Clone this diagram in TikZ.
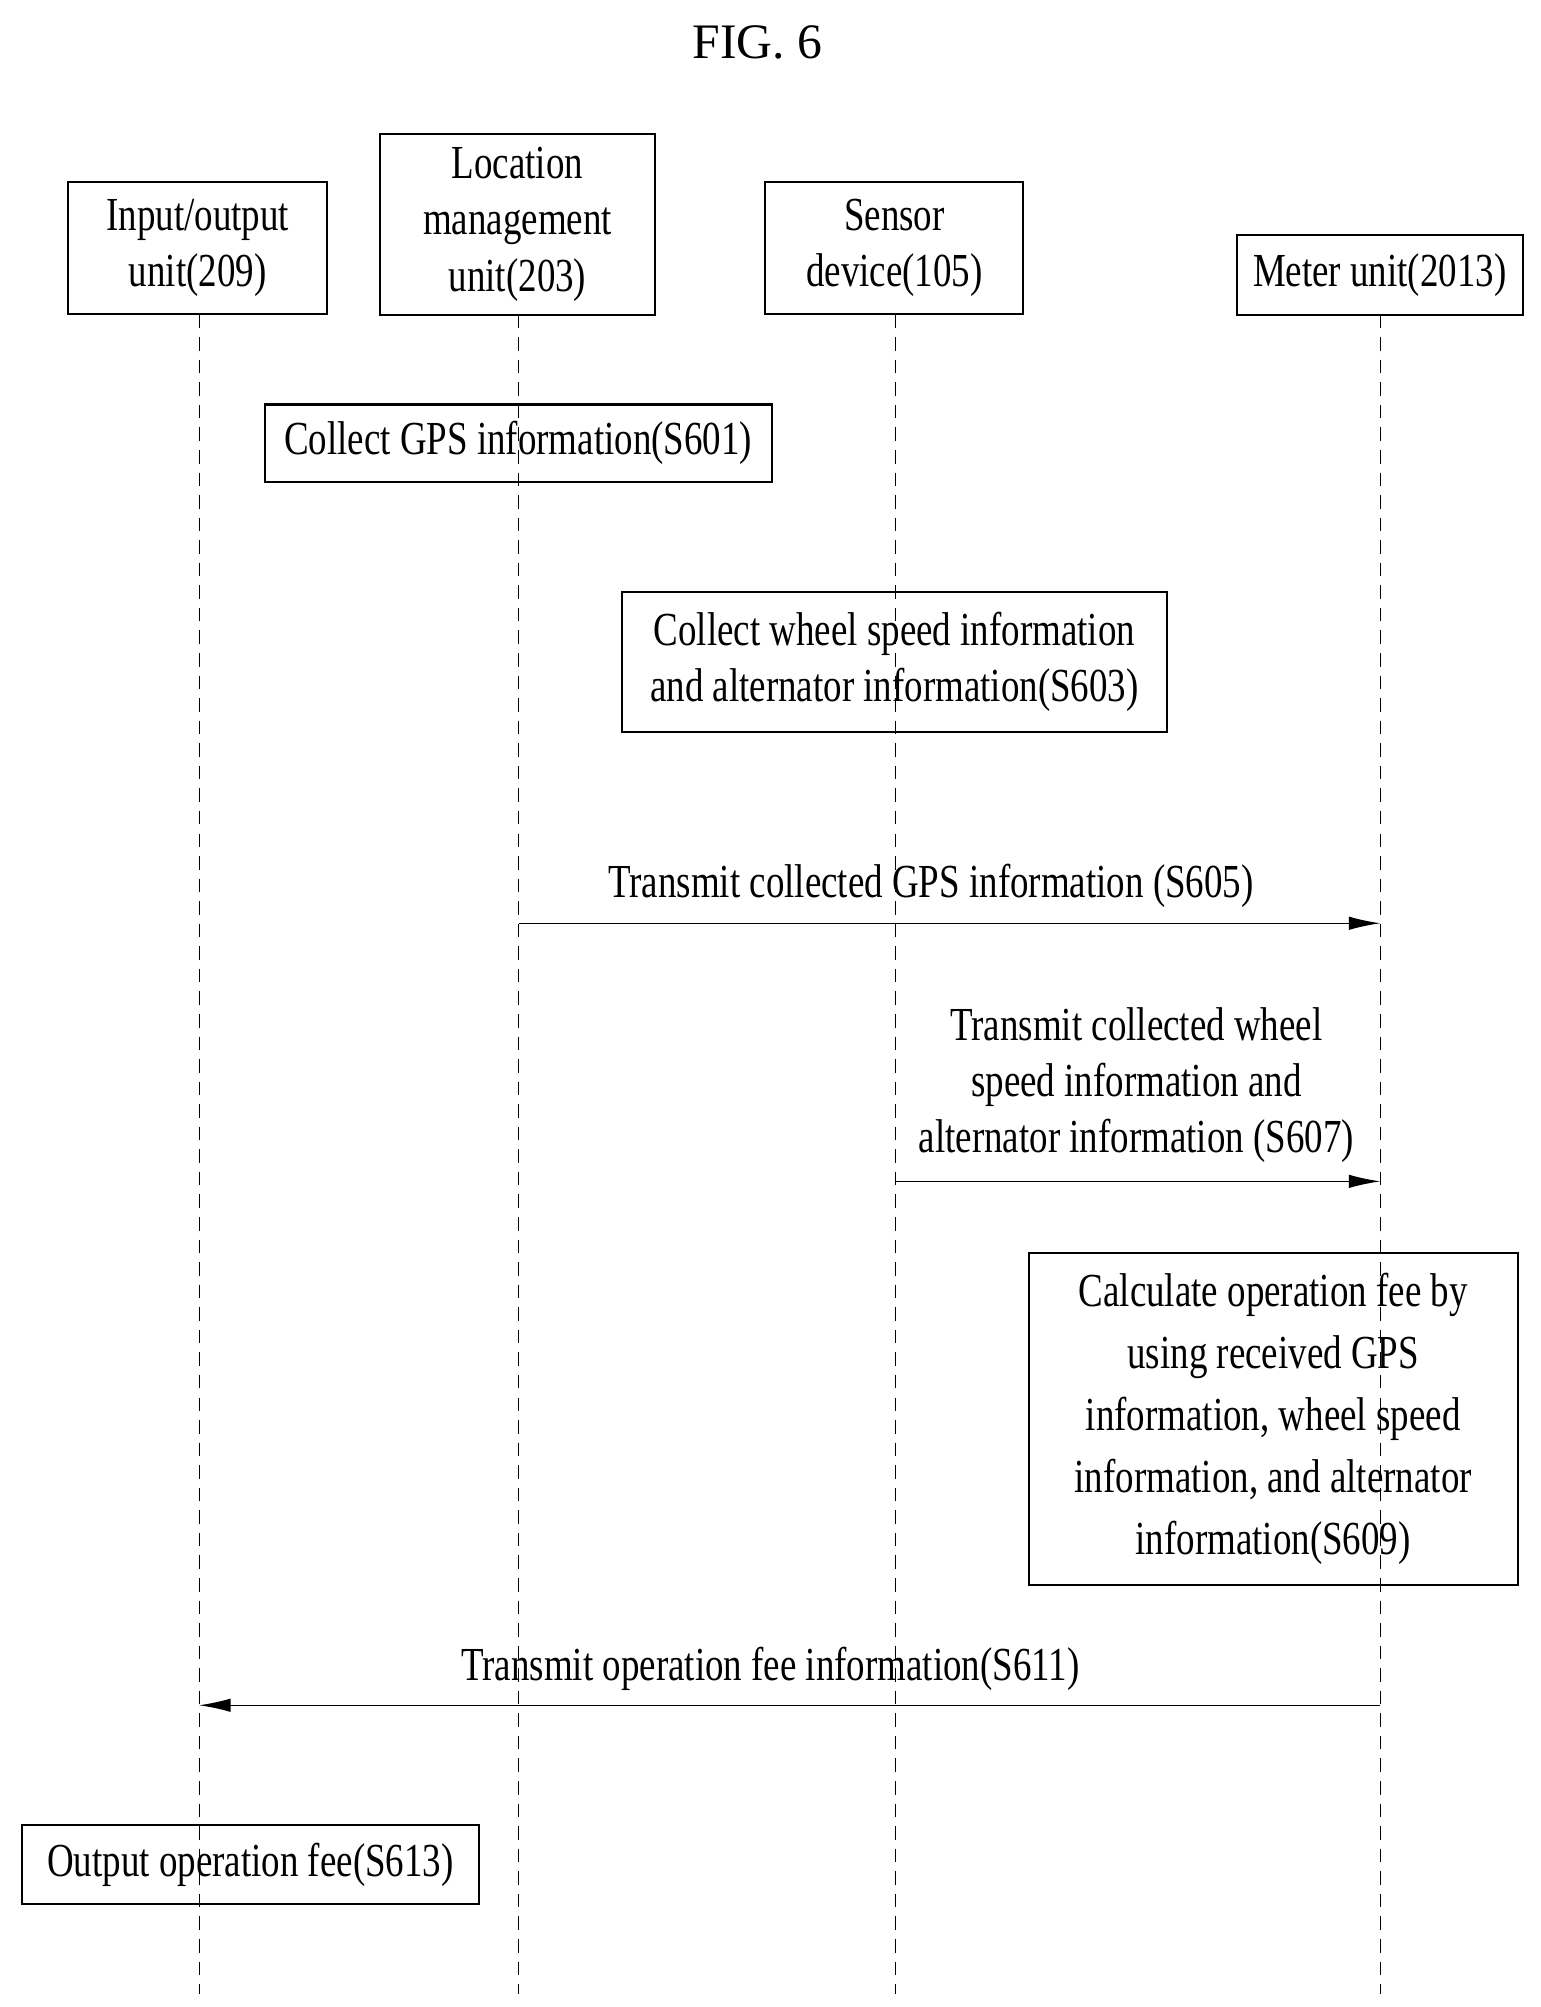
\documentclass[tikz,border=0pt]{standalone}
\usepackage{fontspec}
\setmainfont{Liberation Serif}[FakeStretch=0.78]
\newfontfamily\titlefont{Liberation Serif}
\usetikzlibrary{arrows.meta}
\begin{document}
\begin{tikzpicture}[x=0.02cm,y=-0.02cm,
  box/.style={draw,line width=0.9pt,align=center,inner sep=0pt,font=\fontsize{21}{25}\selectfont},
  life/.style={dashed,line width=0.4pt,dash pattern=on 6pt off 4pt},
  msg/.style={line width=0.6pt,-{Latex[length=14pt,width=6pt]}},
  lbl/.style={font=\fontsize{21}{25}\selectfont,align=center}]
\useasboundingbox (0,0) rectangle (1200,1563);
\node[font=\titlefont\fontsize{22}{26}\selectfont] (title) at (590,33) {FIG. 6};
% headers
\node[box,minimum width=4.04cm,minimum height=2.06cm] (io) at (154,193) {Input/output\\unit(209)};
\node[box,minimum width=4.28cm,minimum height=2.82cm] (loc) at (403,174.5) {Location\\management\\unit(203)};
\node[box,minimum width=4.02cm,minimum height=2.06cm] (sen) at (696.5,193) {Sensor\\device(105)};
\node[box,minimum width=4.46cm,minimum height=1.24cm] (met) at (1074.5,214) {Meter unit(2013)};
\coordinate (ioE) at (155,1553);
\coordinate (locE) at (404,1553);
\coordinate (senE) at (697,1553);
\coordinate (metE) at (1075,1553);
\draw[life] (155,245) -- (ioE);
\draw[life] (404,245) -- (locE);
\draw[life] (697,245) -- (senE);
\draw[life] (1075,245) -- (metE);
% steps
\node[box,minimum width=7.9cm,minimum height=1.2cm] (s601) at (403.5,345) {Collect GPS information(S601)};
\node[box,minimum width=8.5cm,minimum height=2.18cm] (s603) at (696.5,515.5) {Collect wheel speed information\\and alternator information(S603)};
\coordinate (a1) at (404,719); \coordinate (b1) at (1075,719);
\draw[msg] (a1) -- (b1);
\node[lbl] (l605) at (725,690) {Transmit collected GPS information (S605)};
\coordinate (a2) at (697,920); \coordinate (b2) at (1075,920);
\draw[msg] (a2) -- (b2);
\node[lbl,font=\fontsize{21}{25}\selectfont] (l607) at (885,845) {Transmit collected wheel\\speed information and\\alternator information (S607)};
\node[box,minimum width=7.62cm,minimum height=5.16cm,font=\fontsize{21}{27.5}\selectfont] (s609) at (991.5,1105) {Calculate operation fee by\\using received GPS\\information, wheel speed\\information, and alternator\\information(S609)};
\coordinate (a3) at (1075,1328); \coordinate (b3) at (155,1328);
\draw[msg] (a3) -- (b3);
\node[lbl] (l611) at (600,1300) {Transmit operation fee information(S611)};
\node[box,minimum width=7.12cm,minimum height=1.24cm] (s613) at (195,1452) {Output operation fee(S613)};
\end{tikzpicture}
\end{document}
